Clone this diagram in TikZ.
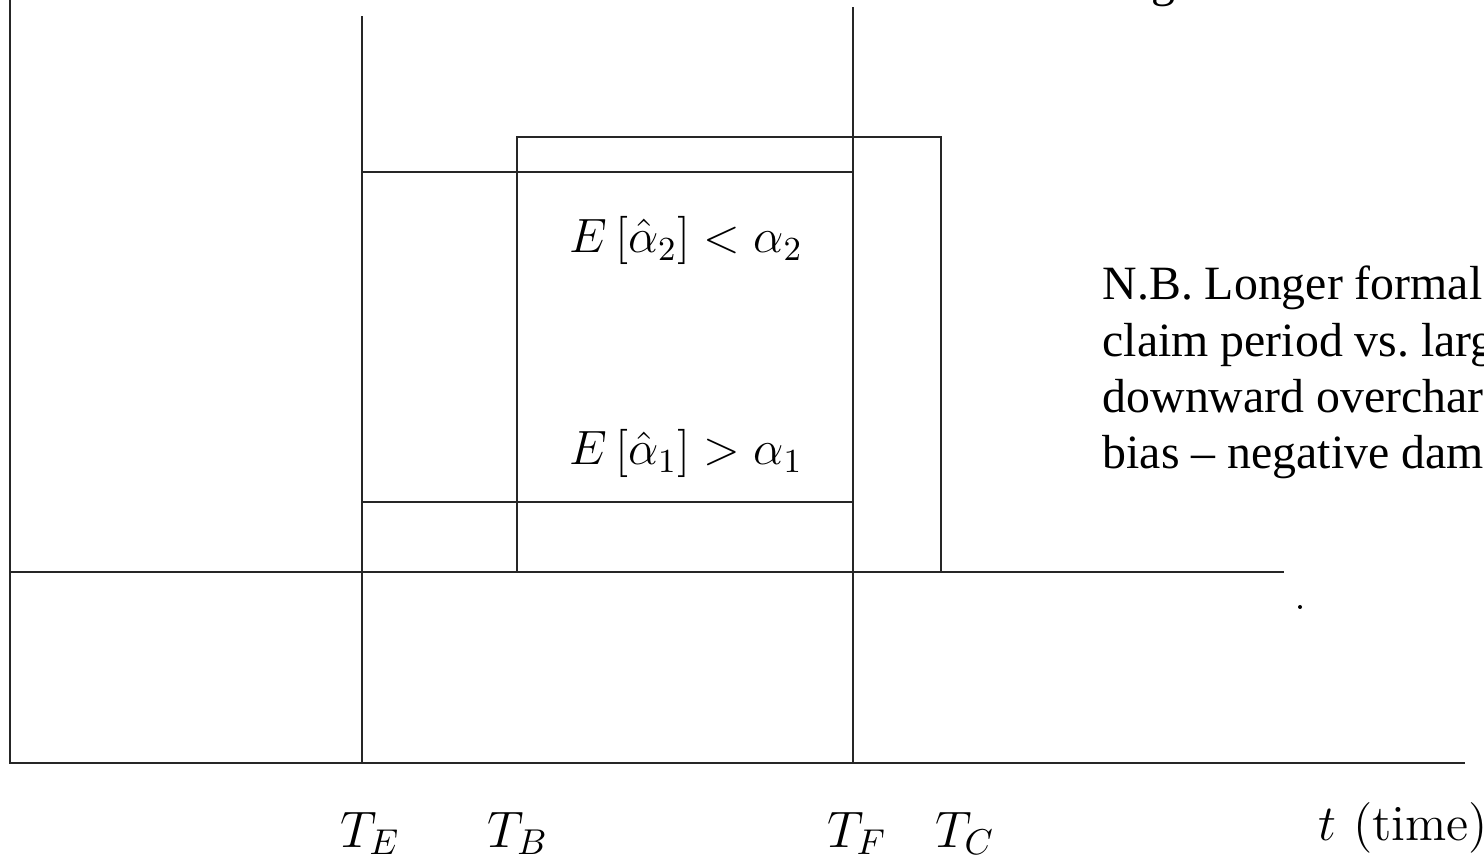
\RequirePackage{fix-cm}
\documentclass[tikz,border=0pt]{standalone}
\usepackage{amsmath,amssymb}
\usepackage{fontspec}
\usepackage{tikz}
\usetikzlibrary{positioning,calc}
\newfontfamily\notefont{Liberation Serif}
\tikzset{
  frameline/.style={line width=0.6pt,black!85},
  ticklab/.style={anchor=base,font=\fontsize{14.6}{17}\selectfont},
  biaslab/.style={anchor=base,font=\fontsize{13.7}{16}\selectfont},
  notelab/.style={anchor=base west,font=\notefont\fontsize{13.6}{16}\selectfont,inner sep=0pt}
}
\newcommand{\ticklabel}[3]{\node[ticklab] (#1) at (#2,-0.84) {$#3$};}
\newcommand{\noteline}[3]{\node[notelab] (#1) at (10.92,#2) {#3};}

\begin{document}
\begin{tikzpicture}
\useasboundingbox (-0.10,-0.97) rectangle (14.74,7.63);
\coordinate (O) at (0,0);
\coordinate (ytop) at (0,7.63);
\coordinate (xend) at (14.55,0);
\coordinate (base) at (0,1.91);
\coordinate (baseend) at (12.74,1.91);
\coordinate (TEbot) at (3.52,0);
\coordinate (TEtop) at (3.52,7.47);
\coordinate (TFbot) at (8.43,0);
\coordinate (TFtop) at (8.43,7.56);
\coordinate (TEhi) at (3.52,5.91);
\coordinate (TFhi) at (8.43,5.91);
\coordinate (TElo) at (3.52,2.61);
\coordinate (TFlo) at (8.43,2.61);
\coordinate (TBll) at (5.07,1.91);
\coordinate (TCur) at (9.31,6.26);
\draw[frameline] (ytop) -- (O) -- (xend);
\draw[frameline] (base) -- (baseend);
\draw[frameline] (TEbot) -- (TEtop);
\draw[frameline] (TFbot) -- (TFtop);
\draw[frameline] (TEhi) -- (TFhi);
\draw[frameline] (TElo) -- (TFlo);
\draw[frameline] (TBll) rectangle (TCur);
\fill (12.90,1.56) circle (0.02);
\node[biaslab] (alphatwo) at (6.76,5.10) {$E\left[\hat{\alpha}_2\right] < \alpha_2$};
\node[biaslab] (alphaone) at (6.76,2.98) {$E\left[\hat{\alpha}_1\right] > \alpha_1$};
\ticklabel{lTE}{3.60}{T_E}
\ticklabel{lTB}{5.08}{T_B}
\ticklabel{lTF}{8.47}{T_F}
\ticklabel{lTC}{9.55}{T_C}
\node[anchor=base west,font=\fontsize{14.4}{17}\selectfont,inner sep=0pt] (tlab) at (13.08,-0.77) {$t\ (\text{time})$};
\node[notelab] (topg) at (11.41,7.66) {g};
\noteline{nb1}{4.63}{N.B. Longer formal}
\noteline{nb2}{4.06}{claim period vs.\ larg}
\noteline{nb3}{3.50}{downward overchar}
\noteline{nb4}{2.94}{bias \textendash{} negative dam}
\end{tikzpicture}
\end{document}
